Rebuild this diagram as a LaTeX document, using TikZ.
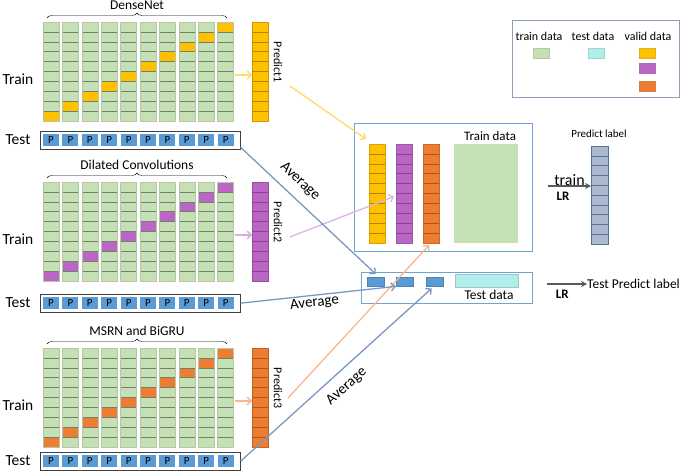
\documentclass[tikz,border=0pt]{standalone}
\usepackage{fontspec}
\setmainfont{Carlito}
\usetikzlibrary{arrows.meta,positioning,decorations.pathreplacing}
\definecolor{trainG}{RGB}{197,224,180}
\definecolor{trainLine}{RGB}{115,128,105}
\definecolor{validY}{RGB}{255,192,0}
\definecolor{validP}{RGB}{187,102,196}
\definecolor{validO}{RGB}{237,125,49}
\definecolor{testC}{RGB}{176,238,236}
\definecolor{pBlue}{RGB}{91,155,213}
\definecolor{boxBlue}{RGB}{112,162,214}
\definecolor{avgBlue}{RGB}{120,152,192}
\definecolor{labFill}{RGB}{172,185,205}
\definecolor{labLine}{RGB}{85,115,160}
\definecolor{lrGray}{RGB}{89,89,89}
\definecolor{legLine}{RGB}{140,160,188}

\begin{document}
\begin{tikzpicture}[x=1bp,y=-1bp, every node/.style={inner sep=1pt},
    fs/.style={font=\fontsize{#1}{#1}\selectfont},
    colbox/.style={minimum width=16, minimum height=99, anchor=north west, inner sep=0},
    feed/.style={line width=1.3pt, -{Straight Barb[length=4pt,width=8pt]}},
    avgline/.style={avgBlue, line width=1.3pt, -{Straight Barb[length=4pt,width=8pt]}},
    avglab/.style={sloped, fs=15, text=black},
    lrarrow/.style={lrGray, line width=1.6pt, -{Stealth[length=6pt,width=6pt]}}]
  \useasboundingbox (0,0) rectangle (685,472);

  % three base models: folds, out-of-fold predictions, test rows
  \foreach \yt/\ty/\col/\ttl/\k in {22/131/validY/DenseNet/1,
      182/294/validP/{Dilated Convolutions}/2, 348/452/validO/{MSRN and BiGRU}/3} {
    \node[fs=13.5] (title\k) at (137,\yt-17) {\ttl};
    \draw[decorate, decoration={brace, amplitude=5pt}] (47,\yt-4) -- (227,\yt-4);
    \node[fs=15.5] (train\k) at (18,\yt+57) {Train};
    \foreach \j in {1,...,10} {
      \pgfmathsetmacro{\xl}{43+(\j-1)*19.4}
      \pgfmathsetmacro{\vy}{\yt+(10-\j)*9.9}
      \fill[trainG] (\xl,\yt) rectangle ++(16,99);
      \fill[\col] (\xl,\vy) rectangle ++(16,9.9);
      \foreach \c in {1,...,9}
        \draw[trainLine, line width=0.5pt] (\xl,\yt+\c*9.9) -- ++(16,0);
      \draw[trainG!75!gray] (\xl,\yt) rectangle ++(16,99);
    }
    % prediction column
    \node[colbox, fill=\col, draw=\col!80!black] (pred\k) at (252,\yt) {};
    \foreach \c in {1,...,9}
      \draw[\col!70!black, line width=0.5pt] (252,\yt+\c*9.9) -- ++(16,0);
    \node[fs=12, rotate=-90] (plab\k) at (278,\yt+40) {Predict\k};
    \coordinate (fold\k) at (235,\yt+53);
    \draw[feed, \col!55] (fold\k) -- (fold\k -| pred\k.west);
    % test row
    \node[fs=15.5] (test\k) at (18,\ty+9) {Test};
    \node[draw=black!75, minimum width=201, minimum height=18, anchor=north west,
          inner sep=0] (tbox\k) at (40,\ty) {};
    \foreach \j in {1,...,10} {
      \pgfmathsetmacro{\px}{51+(\j-1)*19.4}
      \node[fill=pBlue, minimum width=16, minimum height=12, inner sep=0, fs=11]
        (p\k-\j) at (\px,\ty+9) {P};
    }
  }

  % stacked train data
  \node[draw=boxBlue, line width=1pt, minimum width=179, minimum height=128,
        anchor=north west, inner sep=0] (trainbox) at (354,123) {};
  \node[fs=13] (traintxt) at (490,136) {Train data};
  \foreach \cx/\col/\n in {369/validY/cy, 396/validP/cp, 423/validO/co} {
    \node[colbox, fill=\col, draw=\col!85!black] (\n) at (\cx,144) {};
    \foreach \c in {1,...,9}
      \draw[\col!70!black, line width=0.5pt] (\cx,144+\c*9.9) -- ++(16,0);
  }
  \node[fill=trainG, minimum width=64, minimum height=99, anchor=north west,
        inner sep=0] (cg) at (454,144) {};

  % stacked test data
  \node[draw=boxBlue, line width=1pt, minimum width=172, minimum height=31,
        anchor=north west, inner sep=0] (testbox) at (361,272) {};
  \foreach \bx/\n in {367/b1, 396/b2, 426/b3}
    \node[fill=pBlue, draw=pBlue!85!black, minimum width=17, minimum height=9,
          anchor=north west, inner sep=0] (\n) at (\bx,277) {};
  \node[fill=testC, draw=testC!65!gray, minimum width=63, minimum height=13,
        anchor=north west, inner sep=0] (cc) at (455,274) {};
  \node[fs=13.5] (testtxt) at (489,295) {Test data};

  % meta learner
  \node[fill=labFill, draw=labLine, minimum width=17, minimum height=98,
        anchor=north west, inner sep=0] (plabel) at (591,146) {};
  \foreach \c in {1,...,9}
    \draw[labLine, line width=0.5pt] (591,146+\c*9.8) -- ++(17,0);
  \node[fs=11] (plabeltxt) at (599,134) {Predict label};
  \coordinate (trainsrc) at (548,186);
  \draw[lrarrow] (trainsrc) -- node[above=-1pt, fs=16, text=black] (trainword) {train}
    node[pos=0.35, below=4pt, text=black, font=\fontsize{13}{13}\selectfont\bfseries] (lr1) {LR}
    (trainsrc -| plabel.west);
  \node[fs=13.5, anchor=west, inner sep=0] (tpl) at (587,284) {Test Predict label};
  \coordinate (testsrc) at (547,284);
  \draw[lrarrow] (testsrc) --
    node[pos=0.38, below=4pt, text=black, font=\fontsize{13}{13}\selectfont\bfseries] (lr2) {LR}
    (tpl.west);

  % legend
  \node[draw=legLine, line width=0.8pt, minimum width=168, minimum height=77,
        anchor=north west, inner sep=0] (legend) at (512,20) {};
  \node[fs=12] (legtrain) at (539,36) {train data};
  \node[fs=12] (legtest) at (593,36) {test data};
  \node[fs=12] (legvalid) at (648,36) {valid data};
  \foreach \sx/\sy/\col/\n in {533/48/trainG/sw1, 588/48/testC/sw2, 639/48/validY/sw3,
      639/63/validP/sw4, 639/81/validO/sw5}
    \node[fill=\col, draw=\col!75!gray, minimum width=16, minimum height=10,
          anchor=north west, inner sep=0] (\n) at (\sx,\sy) {};

  % predictions into the new train set
  \coordinate (src1) at (290,86);
  \coordinate (src2) at (290,237);
  \coordinate (src3) at (288,398);
  \draw[feed, validY!60] (src1) -- ([xshift=-3bp, yshift=5bp]cy.north west);
  \draw[feed, validP!50] (src2) -- ([xshift=-2bp, yshift=-3bp]cp.west);
  \draw[feed, validO!55] (src3) -- ([xshift=-2bp, yshift=-2bp]co.south);

  % averaged test predictions
  \draw[avgline] ([yshift=2bp]tbox1.south east) --
    node[avglab, pos=0.36, above=8pt] (avg1) {Average} ([yshift=3bp]b1.north);
  \draw[avgline] (tbox2.east) --
    node[avglab, pos=0.47, below=0pt] (avg2) {Average} (b2.south west);
  \draw[avgline] (tbox3.east) --
    node[avglab, pos=0.5, below=8pt] (avg3) {Average} ([xshift=-3bp, yshift=-2bp]b3.south);
\end{tikzpicture}
\end{document}
